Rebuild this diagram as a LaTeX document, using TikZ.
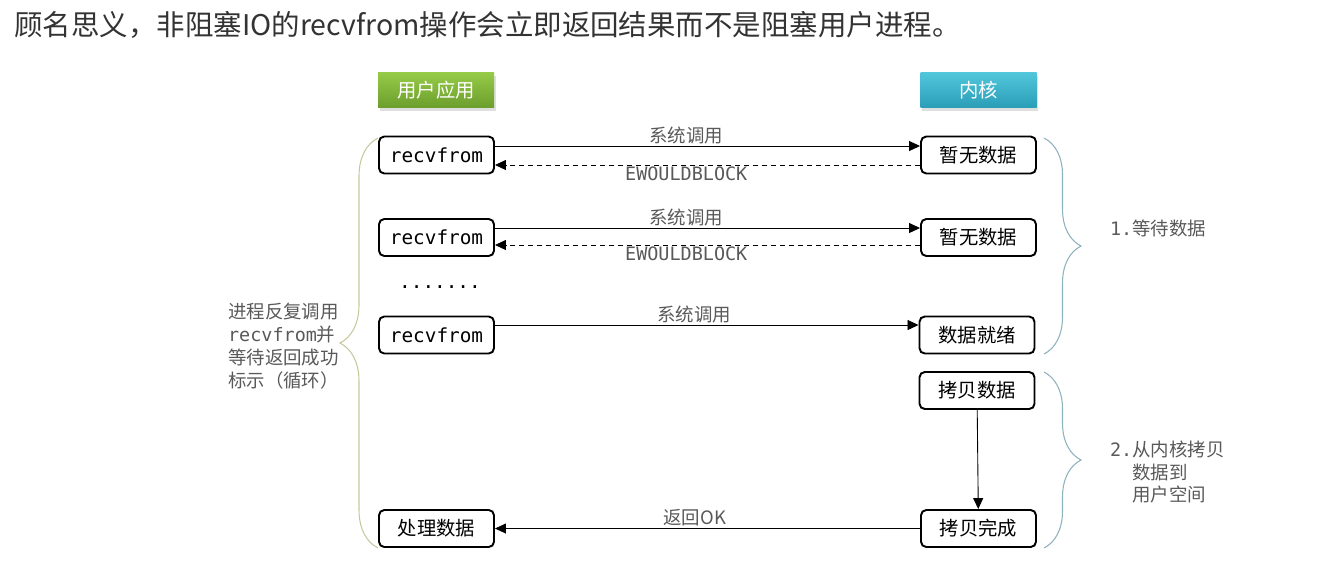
\documentclass[tikz,border=0pt]{standalone}
\usepackage{fontspec}
\setmainfont{Noto Sans CJK SC}
\setmonofont{DejaVu Sans Mono}[Scale=1.05]
\usetikzlibrary{arrows.meta,decorations.pathreplacing,shadows}
\definecolor{appgreenA}{HTML}{95CB48}
\definecolor{appgreenB}{HTML}{6C9E2C}
\definecolor{kernblueA}{HTML}{52C6DA}
\definecolor{kernblueB}{HTML}{2A9EB7}
\definecolor{braceL}{HTML}{C6C89C}
\definecolor{braceR}{HTML}{8DB1BD}
\begin{document}
\begin{tikzpicture}[x=0.2mm,y=-0.2mm,
  box/.style={draw=black,line width=1.1pt,rounded corners=3pt,fill=white,minimum width=2.3cm,minimum height=0.74cm,inner sep=1pt,font=\fontsize{11}{12}\selectfont},
  head/.style={minimum width=2.32cm,minimum height=0.7cm,text=white,font=\fontsize{11}{12}\selectfont,drop shadow={shadow xshift=0.3mm,shadow yshift=-0.6mm,opacity=0.25}},
  lbl/.style={text=black!65,font=\fontsize{10.5}{13}\selectfont,inner sep=1pt},
  errtxt/.style={font=\ttfamily\fontsize{10}{12}\selectfont},
  call/.style={-{Triangle[length=2.2mm,width=2mm]},line width=0.5pt},
  ret/.style={call,dash pattern=on 1mm off 0.8mm},
  brc/.style={decorate,line width=0.6pt}]
\useasboundingbox (0,0) rectangle (1334,573);
\node[anchor=west,text=black!80,font=\fontsize{16.2}{18}\selectfont,inner sep=0pt] (title) at (14,25) {顾名思义，非阻塞IO的recvfrom操作会立即返回结果而不是阻塞用户进程。};
% headers
\node[head,top color=appgreenA,bottom color=appgreenB] (app) at (436,90) {用户应用};
\node[head,top color=kernblueA,bottom color=kernblueB] (kern) at (978.5,90) {内核};
% user side
\node[box] (r1) at (436.5,155) {\ttfamily\fontsize{10.5}{12}\selectfont recvfrom};
\node[box] (r2) at (436.5,237.5) {\ttfamily\fontsize{10.5}{12}\selectfont recvfrom};
\node[font=\ttfamily\fontsize{10.5}{12}\selectfont] (dots) at (440,287) {.......};
\node[box] (r3) at (436.5,335) {\ttfamily\fontsize{10.5}{12}\selectfont recvfrom};
\node[box] (proc) at (436.5,528.5) {处理数据};
% kernel side
\node[box] (k1) at (978.5,155) {暂无数据};
\node[box] (k2) at (978.5,237.5) {暂无数据};
\node[box] (k3) at (977,335) {数据就绪};
\node[box] (k4) at (977,390.5) {拷贝数据};
\node[box] (k5) at (978.5,528.5) {拷贝完成};
% calls
\draw[call] ([yshift=1.8mm]r1.east) -- node[lbl,above,pos=0.45] {系统调用} ([yshift=1.8mm]k1.west);
\draw[ret] ([yshift=-2mm]k1.west) -- node[lbl,below,pos=0.55,errtxt] {EWOULDBLOCK} ([yshift=-2mm]r1.east);
\draw[call] ([yshift=1.9mm]r2.east) -- node[lbl,above,pos=0.45] {系统调用} ([yshift=1.9mm]k2.west);
\draw[ret] ([yshift=-1.5mm]k2.west) -- node[lbl,below,pos=0.55,errtxt] {EWOULDBLOCK} ([yshift=-1.5mm]r2.east);
\draw[call] ([yshift=2mm]r3.east) -- node[lbl,above,pos=0.47] {系统调用} ([yshift=2mm]k3.west);
\draw[call] (k4) -- (k5);
\draw[call] (k5) -- node[lbl,above,pos=0.53] {返回OK} (proc);
% braces
\draw[brc,braceL,decoration={brace,amplitude=7.6mm}] (378,548) -- (378,138);
\draw[brc,braceR,decoration={brace,amplitude=7.4mm}] (1044,138) -- (1044,354);
\draw[brc,braceR,decoration={brace,amplitude=7.4mm}] (1044,372) -- (1044,548);
\node[lbl,align=left,anchor=west] (loop) at (226,346) {进程反复调用\\{\ttfamily\fontsize{10}{13}\selectfont recvfrom}并\\等待返回成功\\标示（循环）};
\node[lbl,align=left,anchor=west] (wait) at (1108,228) {{\ttfamily\fontsize{10}{13}\selectfont 1.}等待数据};
\node[lbl,align=left,anchor=west] (copy) at (1108,472) {{\ttfamily\fontsize{10}{13}\selectfont 2.}从内核拷贝\\\phantom{\ttfamily\fontsize{10}{13}\selectfont 2.}数据到\\\phantom{\ttfamily\fontsize{10}{13}\selectfont 2.}用户空间};
\end{tikzpicture}
\end{document}
